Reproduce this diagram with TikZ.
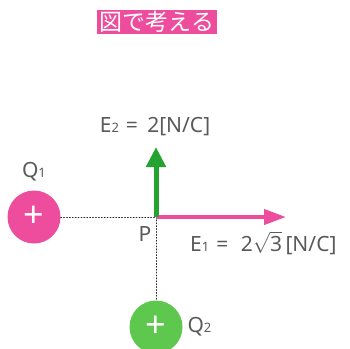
\documentclass[tikz,border=0pt]{standalone}
\usepackage{fontspec}
\setmainfont{Noto Sans}
\newfontfamily\jpfont{Noto Sans CJK JP}
\usetikzlibrary{arrows.meta}
\definecolor{qpink}{HTML}{EE4C9C}
\definecolor{qgreen}{HTML}{5EC84E}
\definecolor{agreen}{HTML}{25A330}
\definecolor{txtgray}{HTML}{5A5A5A}
\newcommand{\sm}[1]{{\fontsize{13}{13}\selectfont #1}}
\begin{document}
\begin{tikzpicture}[x=1pt, y=-1pt, font=\fontsize{21}{23}\selectfont, text=txtgray, line cap=round,
  charge/.style={circle, minimum size=53pt, inner sep=0pt, text=white, font=\fontsize{36}{36}\selectfont\bfseries},
  guide/.style={dotted, line width=0.9pt, black!85},
  field/.style={line width=#1, -{Triangle[length=20pt, width=19pt]}, line cap=butt}]
  \useasboundingbox (0,0) rectangle (350,348);
  % title
  \node[fill=qpink, text=white, inner xsep=3pt, inner ysep=1pt, font=\jpfont\fontsize{23}{23}\selectfont] (title) at (157,22) {図で考える};
  % charges
  \node[charge, fill=qpink] (Q1) at (34,217) {+};
  \node[charge, fill=qgreen] (Q2) at (156,327) {+};
  \node (labQ1) at (34,172) {Q\sm{1}};
  \node[anchor=west] (labQ2) at (184,327) {Q\sm{2}};
  % point P and fields
  \coordinate (P) at (156,217);
  \coordinate (E1tip) at (286,217);
  \coordinate (E2tip) at (156,147);
  \draw[guide] (Q1.east) -- (P);
  \draw[guide] (P) -- (Q2.north);
  \draw[field=4pt, qpink, -{Triangle[length=22pt, width=15pt]}] (P) -- (E1tip);
  \draw[field=5pt, agreen] (P) -- (E2tip);
  \node (labP) at (145,234) {P};
  \node[anchor=west, inner sep=0pt] (labE1) at (190,243) {E\sm{1}\,\,=\,\, 2$\sqrt{\mbox{3}}$\,[N/C]};
  \node (labE2) at (155,127) {E\sm{2}\,\,=\,\;2[N/C]};
\end{tikzpicture}
\end{document}
